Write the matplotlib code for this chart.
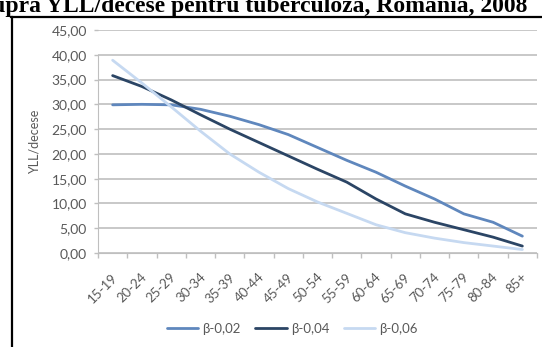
import matplotlib.pyplot as plt
import matplotlib.transforms as mtransforms
import numpy as np
from matplotlib.lines import Line2D
from matplotlib.ticker import FuncFormatter

age_groups = ["15-19", "20-24", "25-29", "30-34", "35-39", "40-44", "45-49", "50-54",
              "55-59", "60-64", "65-69", "70-74", "75-79", "80-84", "85+"]
beta_002 = [29.9, 30.0, 29.9, 29.0, 27.6, 25.9, 23.9, 21.3, 18.7, 16.3, 13.5, 10.9, 7.9, 6.2, 3.4]
beta_004 = [35.8, 33.6, 30.9, 27.9, 25.0, 22.3, 19.6, 16.9, 14.3, 10.9, 7.9, 6.2, 4.7, 3.2, 1.4]
beta_006 = [38.9, 34.3, 29.5, 24.6, 20.0, 16.3, 13.0, 10.3, 8.0, 5.7, 4.1, 3.0, 2.1, 1.4, 0.7]
series_labels = ["β-0,02", "β-0,04", "β-0,06"]
series_colors = ["#5f87bd", "#2b4565", "#c6d9f1"]

title_text = "asupra YLL/decese pentru tuberculoza, Romania, 2008"
y_label = "YLL/decese"

TEXT_GREY = "#595959"
GRID_GREY = "#bfbfbf"

W, H = 542, 347
fig = plt.figure(figsize=(W / 100, H / 100), dpi=100)
fig.patch.set_facecolor("white")

# plot area in pixel coordinates
left, right, top, bottom = 98, 537, 30, 253
ax = fig.add_axes([left / W, 1 - bottom / H, (right - left) / W, (bottom - top) / H])

x = np.arange(len(age_groups))
for values, label, color in zip([beta_002, beta_004, beta_006], series_labels, series_colors):
    ax.plot(x, values, color=color, lw=2.0, label=label, solid_capstyle="round")

ax.set_xlim(-0.5, len(age_groups) - 0.5)
ax.set_ylim(0, 45)
ax.set_yticks(np.arange(0, 46, 5))
ax.yaxis.set_major_formatter(FuncFormatter(lambda v, _: f"{v:.2f}".replace(".", ",")))
ax.grid(axis="y", color=GRID_GREY, lw=1.2)
ax.set_axisbelow(True)

ax.set_xticks(x)
ax.set_xticklabels(age_groups, rotation=45, ha="right", va="center", rotation_mode="anchor",
                   fontsize=9.5, color=TEXT_GREY, family="Lato")
ax.set_xticks(np.arange(-0.5, len(age_groups)), minor=True)
ax.tick_params(axis="x", which="major", length=0, pad=16)
ax.tick_params(axis="x", which="minor", length=3.5, color=GRID_GREY, width=1)
ax.tick_params(axis="y", length=3, color=GRID_GREY, width=1, pad=5, labelsize=10,
               labelcolor=TEXT_GREY)
for lbl in ax.get_yticklabels():
    lbl.set_family("Lato")

# nudge the slanted category labels a little to the right
shift = mtransforms.ScaledTranslation(3 / 100, 0, fig.dpi_scale_trans)
for lbl in ax.get_xticklabels():
    lbl.set_transform(lbl.get_transform() + shift)

for side in ["top", "right"]:
    ax.spines[side].set_visible(False)
ax.spines["left"].set_color(GRID_GREY)
ax.spines["left"].set_bounds(0, 40)
ax.spines["bottom"].set_color(GRID_GREY)

ax.set_ylabel(y_label, fontsize=9, color=TEXT_GREY, family="Lato")
ax.yaxis.set_label_coords(-0.13, 0.5)

fig.legend(loc="center left", bbox_to_anchor=(160 / W, 1 - 329 / H), ncol=3, frameon=False,
           handlelength=2.4, handletextpad=0.3, columnspacing=1.1, borderpad=0,
           prop={"family": "Lato", "size": 9.5}, labelcolor=TEXT_GREY)

# chart frame (top and left border)
fig.add_artist(Line2D([11 / W, 1], [1 - 17 / H, 1 - 17 / H], color="black", lw=1.6,
                      transform=fig.transFigure))
fig.add_artist(Line2D([12 / W, 12 / W], [0, 1 - 17 / H], color="black", lw=1.6,
                      transform=fig.transFigure))

fig.text(527 / W, 1 - 12 / H, title_text, ha="right", va="baseline",
         fontsize=17, fontweight="bold", family="Liberation Serif")

fig.savefig("out.png", dpi=100)
